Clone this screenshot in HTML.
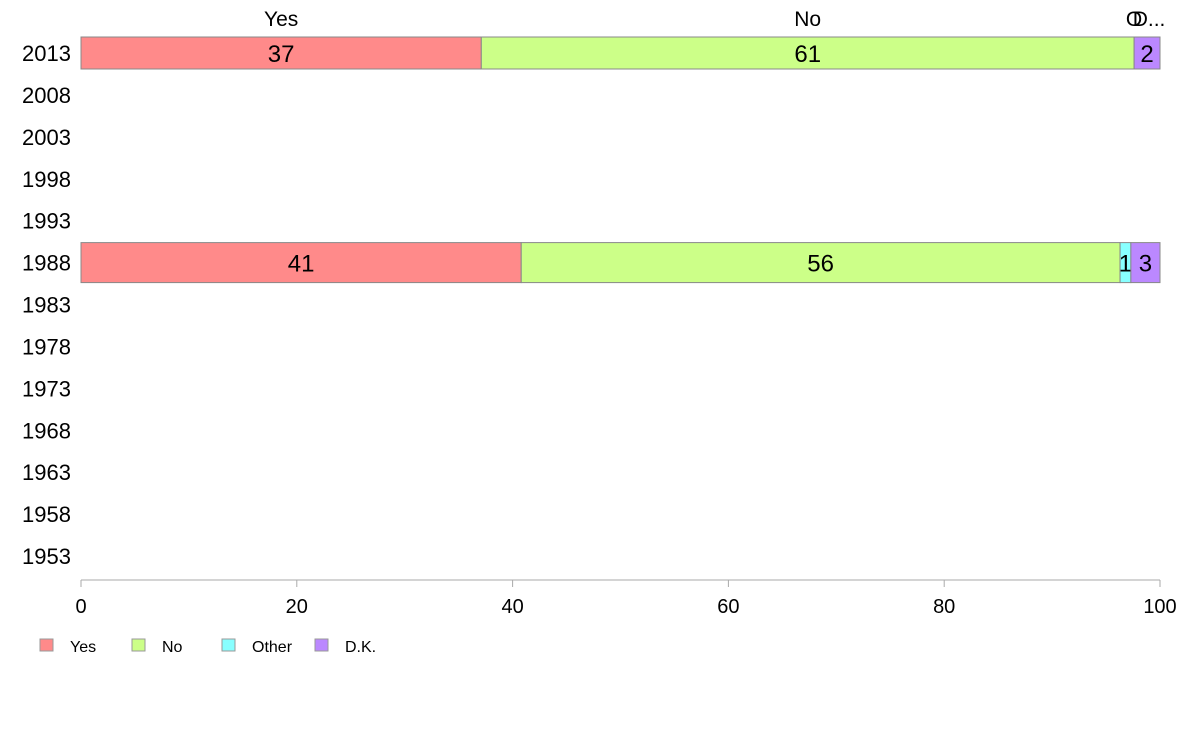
<!DOCTYPE html>
<html><head><meta charset="utf-8"><style>body{margin:0;background:#fff}svg{display:block;font-family:"Liberation Sans",Arial,sans-serif}</style></head>
<body>
<svg width="1188" height="736" id="c"></svg>
<script>
const years=["2013","2008","2003","1998","1993","1988","1983","1978","1973","1968","1963","1958","1953"];
const seriesNames=["Yes","No","Other","D.K."];
const colors=["#ff8a8a","#ccff88","#88ffff","#bb88ff"];
const yesVals=[37.1,null,null,null,null,40.8,null,null,null,null,null,null,null];
const noVals=[60.5,null,null,null,null,55.5,null,null,null,null,null,null,null];
const otherVals=[0,null,null,null,null,1.0,null,null,null,null,null,null,null];
const dkVals=[2.4,null,null,null,null,2.7,null,null,null,null,null,null,null];
const labelsYes=["37","","","","","41"];
const labelsNo=["61","","","","","56"];
const labelsOther=["","","","","","1"];
const labelsDk=["2","","","","","3"];
const xTicks=[0,20,40,60,80,100];
const NS="http://www.w3.org/2000/svg",svg=document.getElementById('c');
const x=v=>81+v*10.79, y=i=>53+i*41.92;
function mk(t,a,p){const e=document.createElementNS(NS,t);for(const k in a)e.setAttribute(k,a[k]);(p||svg).appendChild(e);return e;}
const vals=[yesVals,noVals,otherVals,dkVals],labs=[labelsYes,labelsNo,labelsOther,labelsDk];
years.forEach((yr,i)=>{
 const t=mk('text',{x:71,y:y(i)+8,'text-anchor':'end','font-size':22,fill:'#000'});t.textContent=yr;
 
 
 if(yesVals[i]==null)return;
 const h=i==0?32:40;let acc=0;
 vals.forEach((s,k)=>{const v=s[i];
  const r=mk('rect',{x:x(acc),y:y(i)-h/2,width:v*10.79,height:h,fill:colors[k],stroke:'#888','stroke-width':1});
  
  
  const l=labs[k][i];
  if(l){const tt=mk('text',{x:x(acc+v/2),y:y(i)+9,'text-anchor':'middle','font-size':24});tt.textContent=l;
   
   }
  if(i==0){const top=["Yes","No","O","D..."][k];const tt=mk('text',{x:x(acc+v/2)+(k==3?2:0),y:26,'text-anchor':'middle','font-size':21});tt.textContent=top;
   
   }
  acc+=v;});
});
mk('line',{x1:x(0),x2:x(100),y1:580,y2:580,stroke:'#aaa'});
xTicks.forEach(v=>{mk('line',{x1:x(v),x2:x(v),y1:580,y2:587,stroke:'#aaa'});
 const t=mk('text',{x:x(v),y:613,'text-anchor':'middle','font-size':20});t.textContent=v;
 
 });
const lx=[40,132,222,315];
seriesNames.forEach((n,k)=>{
 const g=mk('g',{});
 
 
 mk('rect',{x:lx[k],y:639,width:13,height:12,fill:colors[k],stroke:'#999'},g);
 const t=mk('text',{x:lx[k]+30,y:652,'font-size':16},g);t.textContent=n;});
</script>
</body></html>
